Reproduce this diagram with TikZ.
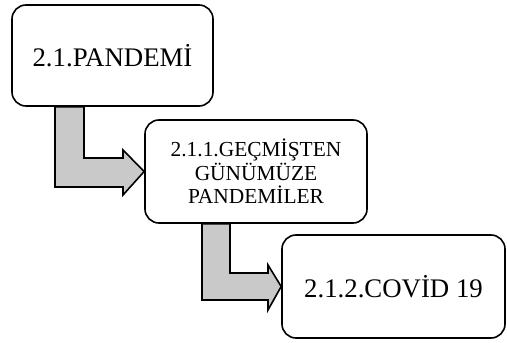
\documentclass[tikz,border=0pt]{standalone}
\usepackage{fontspec}
\setmainfont{Liberation Serif}
\usetikzlibrary{backgrounds}
\begin{document}
\begin{tikzpicture}[x=1pt,y=-1pt,
  box/.style={draw,line width=1.6pt,rounded corners=14pt,fill=white,
    align=center,inner sep=0pt},
  bigtext/.style={font=\fontsize{26.8}{30}\selectfont},
  midtext/.style={font=\fontsize{21.4}{23.5}\selectfont},
  flow/.style={draw,line width=1.6pt,fill=black!21,line join=miter}]
\useasboundingbox (0,0) rectangle (507,343);

% section boxes
\node[box,bigtext,minimum width=201pt,minimum height=101pt] (p) at (112.5,55.5) {2.1.PANDEMİ};
\node[box,midtext,minimum width=222pt,minimum height=103pt] (g) at (256,171.5)
  {2.1.1.GEÇMİŞTEN\\GÜNÜMÜZE\\PANDEMİLER};
\node[box,bigtext,minimum width=223pt,minimum height=103pt] (c) at (393.5,286.5) {2.1.2.COVİD 19};

% bent block arrows between the boxes, drawn behind them
\begin{scope}[on background layer]
  \draw[flow] (p.south -| 55,0) -- (55,187) -- (123,187) -- (123,195)
    -- (g.west) -- (123,150) -- (123,158) -- (84,158) -- (p.south -| 84,0) -- cycle;
  \draw[flow] (g.south -| 202,0) -- (202,300) -- (268,300) -- (268,310)
    -- (c.west) -- (268,265) -- (268,273) -- (230,273) -- (g.south -| 230,0) -- cycle;
\end{scope}
\end{tikzpicture}
\end{document}
